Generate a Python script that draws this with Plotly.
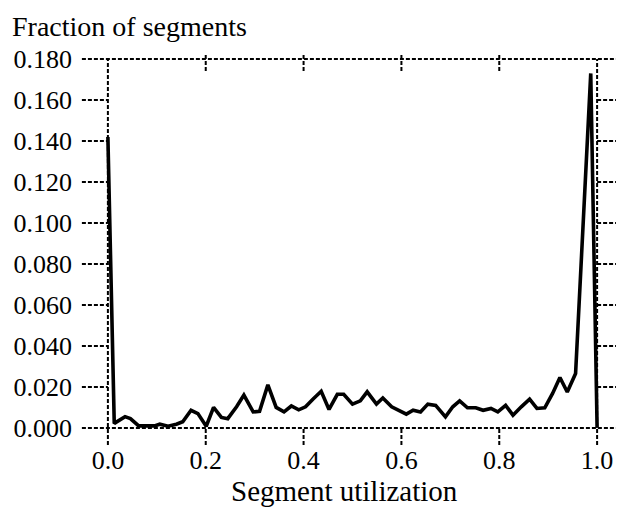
import plotly.graph_objects as go

# Data
utilization = [0.000, 0.013, 0.035, 0.046, 0.063, 0.080, 0.095, 0.106, 0.123, 0.140,
               0.153, 0.170, 0.184, 0.201, 0.216, 0.232, 0.245, 0.263, 0.278, 0.297,
               0.310, 0.327, 0.344, 0.360, 0.375, 0.390, 0.404, 0.419, 0.436, 0.452,
               0.469, 0.482, 0.500, 0.516, 0.530, 0.549, 0.562, 0.580, 0.593, 0.610,
               0.624, 0.639, 0.654, 0.670, 0.690, 0.705, 0.719, 0.735, 0.752, 0.767,
               0.783, 0.797, 0.813, 0.828, 0.845, 0.862, 0.877, 0.893, 0.909, 0.924,
               0.939, 0.956, 0.987, 1.000]
fraction = [0.142, 0.0022, 0.0055, 0.0045, 0.0010, 0.0010, 0.0010, 0.0018, 0.0008, 0.0018,
            0.0030, 0.0086, 0.0070, 0.0008, 0.0100, 0.0051, 0.0045, 0.0103, 0.0160, 0.0078,
            0.0081, 0.0210, 0.0100, 0.0078, 0.0107, 0.0088, 0.0103, 0.0140, 0.0179, 0.0090,
            0.0164, 0.0164, 0.0116, 0.0132, 0.0176, 0.0116, 0.0146, 0.0103, 0.0086, 0.0067,
            0.0086, 0.0078, 0.0116, 0.0110, 0.0054, 0.0103, 0.0132, 0.0098, 0.0098, 0.0086,
            0.0095, 0.0078, 0.0110, 0.0062, 0.0103, 0.0140, 0.0095, 0.0098, 0.0168, 0.0246,
            0.0175, 0.0265, 0.1730, 0.0000]

y_ticks = [0.0, 0.02, 0.04, 0.06, 0.08, 0.10, 0.12, 0.14, 0.16, 0.18]
y_tick_text = ["0.000", "0.020", "0.040", "0.060", "0.080", "0.100", "0.120", "0.140", "0.160", "0.180"]
x_ticks = [0.0, 0.2, 0.4, 0.6, 0.8, 1.0]
x_tick_text = ["0.0", "0.2", "0.4", "0.6", "0.8", "1.0"]

OFF = 8  # page body margin in the browser
XR = [-0.01, 1.01]
YR = [-0.002, 0.182]
W, H = 624 - OFF, 510 - OFF
ML, MT = 103 - OFF, 55 - OFF
PW, PH = 499, 377
MR, MB = W - ML - PW, H - MT - PH

def fx(v):
    return (v - XR[0]) / (XR[1] - XR[0])

def fy(v):
    return (v - YR[0]) / (YR[1] - YR[0])

def py_paper(pix):
    # pixel row in reference image -> paper y
    return (MT + PH - (pix - OFF)) / PH

def px_paper(pix):
    return ((pix - OFF) - ML) / PW

FONT = "Liberation Serif, Times New Roman, serif"
DASH = "4px,2px"
LW = 2

fig = go.Figure()
fig.add_trace(go.Scatter(x=utilization, y=fraction, mode="lines",
                         line=dict(color="black", width=3.6), showlegend=False,
                         hoverinfo="skip"))

shapes = []
x0p = fx(0.0)
x1p = fx(1.0)
px_per_unit_x = PW / (XR[1] - XR[0])
span_px = px_per_unit_x * 1.0
for v in (0.0, 0.18):
    shapes.append(dict(type="line", xref="paper", yref="paper", xsizemode="pixel",
                       xanchor=x0p, x0=-26, x1=span_px + 30, y0=fy(v), y1=fy(v),
                       line=dict(color="black", width=LW, dash=DASH)))
for v in y_ticks[1:-1]:
    shapes.append(dict(type="line", xref="paper", yref="paper", xsizemode="pixel",
                       xanchor=x0p, x0=-26, x1=0, y0=fy(v), y1=fy(v),
                       line=dict(color="black", width=LW, dash=DASH)))
    shapes.append(dict(type="line", xref="paper", yref="paper", xsizemode="pixel",
                       xanchor=x1p, x0=0, x1=30, y0=fy(v), y1=fy(v),
                       line=dict(color="black", width=LW, dash=DASH)))
px_per_unit_y = PH / (YR[1] - YR[0])
top_px = px_per_unit_y * 0.18
for v in (0.0, 1.0):
    shapes.append(dict(type="line", xref="paper", yref="paper", ysizemode="pixel",
                       yanchor=fy(0.0), y0=-17, y1=top_px, x0=fx(v), x1=fx(v),
                       line=dict(color="black", width=LW, dash=DASH)))
for v in x_ticks[1:-1]:
    shapes.append(dict(type="line", xref="paper", yref="paper", ysizemode="pixel",
                       yanchor=fy(0.18), y0=-12, y1=5, x0=fx(v), x1=fx(v),
                       line=dict(color="black", width=LW, dash=DASH)))
    shapes.append(dict(type="line", xref="paper", yref="paper", ysizemode="pixel",
                       yanchor=fy(0.0), y0=-17, y1=0, x0=fx(v), x1=fx(v),
                       line=dict(color="black", width=LW, dash=DASH)))
for s in shapes:
    s["layer"] = "below"

fig.update_layout(
    width=W, height=H,
    margin=dict(l=ML, r=MR, t=MT, b=MB, pad=0, autoexpand=False),
    paper_bgcolor="white", plot_bgcolor="rgba(0,0,0,0)",
    shapes=shapes,
    font=dict(family=FONT, color="black"),
    xaxis=dict(range=XR, showgrid=False, zeroline=False, showline=False,
               automargin=False,
               tickmode="array", tickvals=x_ticks, ticktext=x_tick_text,
               ticks="", tickfont=dict(size=26, family=FONT, color="black"),
               ticklabelstandoff=10, fixedrange=True),
    yaxis=dict(range=YR, showgrid=False, zeroline=False, showline=False,
               automargin=False,
               tickmode="array", tickvals=y_ticks, ticktext=y_tick_text,
               ticks="", tickfont=dict(size=26, family=FONT, color="black"),
               ticklabelstandoff=30, fixedrange=True),
    annotations=[
        dict(text="Fraction of segments", xref="paper", yref="paper",
             x=px_paper(10), y=py_paper(9), xanchor="left", yanchor="top",
             showarrow=False, font=dict(size=28, family=FONT, color="black")),
        dict(text="Segment utilization", xref="paper", yref="paper",
             x=px_paper(344), y=py_paper(491), xanchor="center", yanchor="middle",
             showarrow=False, font=dict(size=29, family=FONT, color="black")),
    ],
)

fig.write_html("out.html")
